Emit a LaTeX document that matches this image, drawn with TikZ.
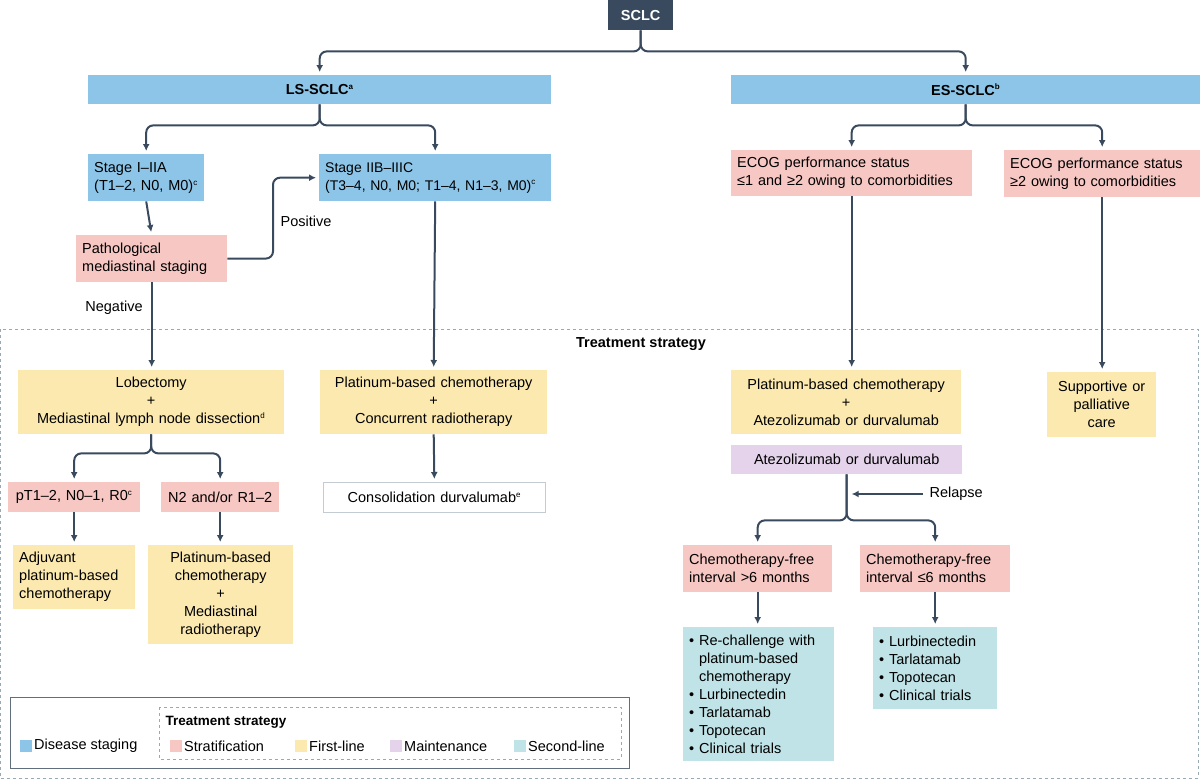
\documentclass[tikz,border=0pt]{standalone}
\usepackage{fontspec}
\setmainfont{Liberation Sans}
\usetikzlibrary{arrows.meta}
\definecolor{ln}{HTML}{3A4A5E}
\definecolor{cb}{HTML}{8CC5E8}
\definecolor{cp}{HTML}{F6C7C3}
\definecolor{cy}{HTML}{FBE9B0}
\definecolor{cv}{HTML}{E4D3EA}
\definecolor{cc}{HTML}{BFE3E6}
\definecolor{dsh}{HTML}{9AAAB4}
\newcommand{\sps}[1]{\textsuperscript{\fontsize{8}{8}\selectfont #1}}
% \bxn{name}{x1}{y1}{x2}{y2}{style}{text}
\newcommand{\bxn}[7]{%
  \pgfmathsetmacro\bw{#4-#2}\pgfmathsetmacro\bh{#5-#3}\pgfmathsetmacro\tw{#4-#2-12}%
  \node[anchor=north west,inner sep=0pt,inner xsep=6pt,minimum width=\bw pt,minimum height=\bh pt,text width=\tw pt,#6] (#1) at (#2,#3) {#7};}
\begin{document}
\begin{tikzpicture}[x=1pt,y=-1pt,
  font=\fontsize{14.5}{18}\selectfont,
  ar/.style={draw=ln,line width=2pt,rounded corners=7pt,shorten >=3pt,-{Latex[length=7pt,width=7pt]}},
  pl/.style={draw=ln,line width=2pt,rounded corners=7pt},
  B/.style={fill=cb}, P/.style={fill=cp}, Y/.style={fill=cy}, V/.style={fill=cv}, C/.style={fill=cc},
  L/.style={align=left}, M/.style={align=center}, bold/.style={font=\fontsize{14.5}{18}\selectfont\bfseries}]
\useasboundingbox (0,0) rectangle (1200,780);
\draw[dsh,dashed,line width=0.8pt] (0,329) rectangle (1198,778);
\node[bold] (ts) at (641,344) {Treatment strategy};
% top
\bxn{sclc}{608}{0}{673}{30}{fill=ln,text=white,M,bold}{SCLC}
\bxn{ls}{88}{75}{551}{104}{B,M,bold}{LS-SCLC\sps{a}}
\bxn{es}{731}{75}{1200}{104}{B,M,bold}{ES-SCLC\sps{b}}
\draw[ar] (sclc.south) -- ++(0,21) -| (ls.north);
\draw[ar] (sclc.south) -- ++(0,21) -| (es.north);
% LS
\bxn{s1}{88}{154}{204}{201}{B,L}{Stage I–IIA\\(T1–2, N0, M0)\sps{c}}
\bxn{s2}{319}{154}{551}{201}{B,L,font=\fontsize{14}{18}\selectfont}{Stage IIB–IIIC\\(T3–4, N0, M0; T1–4, N1–3, M0)\sps{c}}
\draw[ar] (ls.south) -- ++(0,21) -| (s1.north);
\draw[ar] (ls.south) -- ++(0,21) -| (s2.north);
\bxn{pm}{76}{235}{227}{282}{P,L}{Pathological\\mediastinal staging}
\draw[ar] (s1.south) -- (pm.north);
\draw[ar] (pm.east) -- (273,258.5) |- (s2.west);
\node at (306,221) {Positive};
\node at (114,308) {Negative};
\bxn{lob}{18}{370}{284}{434}{Y,M}{Lobectomy\\+\\Mediastinal lymph node dissection\sps{d}}
\draw[ar] (pm.south) -- (pm.south |- lob.north);
\bxn{pc}{320}{370}{547}{434}{Y,M}{Platinum-based chemotherapy\\+\\Concurrent radiotherapy}
\draw[ar] (s2.south) -- (pc.north);
\bxn{cd}{323}{482}{545}{512}{draw=dsh!60,fill=white,line width=0.8pt,M}{Consolidation durvalumab\sps{e}}
\draw[ar] (pc.south) -- (cd.north);
\bxn{pt}{8}{482}{140}{512}{P,M}{pT1–2, N0–1, R0\sps{c}}
\bxn{n2}{161}{482}{279}{512}{P,M}{N2 and/or R1–2}
\draw[ar] (lob.south) -- ++(0,19) -| (pt.north);
\draw[ar] (lob.south) -- ++(0,19) -| (n2.north);
\bxn{adj}{13}{545}{135}{609}{Y,L}{Adjuvant\\platinum-based\\chemotherapy}
\bxn{pr}{148}{545}{293}{644}{Y,M}{Platinum-based\\chemotherapy\\+\\Mediastinal\\radiotherapy}
\draw[ar] (pt.south) -- (pt.south |- adj.north);
\draw[ar] (n2.south) -- (n2.south |- pr.north);
% ES
\bxn{e1}{731}{150}{972}{196}{P,L}{ECOG performance status\\≤1 and ≥2 owing to comorbidities}
\bxn{e2}{1004}{150}{1200}{197}{P,L}{ECOG performance status\\≥2 owing to comorbidities}
\draw[ar] (es.south) -- ++(0,21) -| (e1.north);
\draw[ar] (es.south) -- ++(0,21) -| (e2.north);
\bxn{pa}{731}{370}{961}{434}{Y,M}{Platinum-based chemotherapy\\+\\Atezolizumab or durvalumab}
\bxn{sup}{1047}{372}{1156}{437}{Y,M}{Supportive or\\palliative\\care}
\draw[ar] (e1.south) -- (e1.south |- pa.north);
\draw[ar] (e2.south) -- (e2.south |- sup.north);
\bxn{mt}{731}{445}{962}{474}{V,M}{Atezolizumab or durvalumab}
\bxn{c1}{683}{545}{832}{592}{P,L}{Chemotherapy-free\\interval >6 months}
\bxn{c2}{860}{545}{1010}{592}{P,L}{Chemotherapy-free\\interval ≤6 months}
\draw[ar] (mt.south) -- ++(0,46) -| (c1.north);
\draw[ar] (mt.south) -- ++(0,46) -| (c2.north);
\coordinate (rl) at (923,494);
\coordinate (rt) at (mt.south |- rl);
\draw[ar,shorten >=5pt] (rl) -- (rt);
\node[anchor=west] at (926,494) {Relapse};
\bxn{l1}{683}{627}{834}{761}{C,L}{• Re-challenge with\\\phantom{• }platinum-based\\\phantom{• }chemotherapy\\• Lurbinectedin\\• Tarlatamab\\• Topotecan\\• Clinical trials}
\bxn{l2}{873}{627}{997}{709}{C,L}{• Lurbinectedin\\• Tarlatamab\\• Topotecan\\• Clinical trials}
\draw[ar] (c1.south) -- (c1.south |- l1.north);
\draw[ar] (c2.south) -- (c2.south |- l2.north);
% legend
\draw[ln!80,line width=0.9pt] (10,697) rectangle (629,768);
\draw[dsh,dashed,line width=0.7pt] (159,707) rectangle (621,759);
\node[anchor=west,font=\fontsize{13.5}{16}\selectfont\bfseries] at (162,722) {Treatment strategy};
\fill[cb] (20,740) rectangle (32,752); \node[anchor=west,inner sep=1pt] at (33,746) {Disease staging};
\fill[cp] (170,740) rectangle (182,752); \node[anchor=west,inner sep=1pt] at (183,746) {Stratification};
\fill[cy] (295,740) rectangle (307,752); \node[anchor=west,inner sep=1pt] at (308,746) {First-line};
\fill[cv] (390,740) rectangle (402,752); \node[anchor=west,inner sep=1pt] at (403,746) {Maintenance};
\fill[cc] (514,740) rectangle (526,752); \node[anchor=west,inner sep=1pt] at (527,746) {Second-line};
\end{tikzpicture}
\end{document}
